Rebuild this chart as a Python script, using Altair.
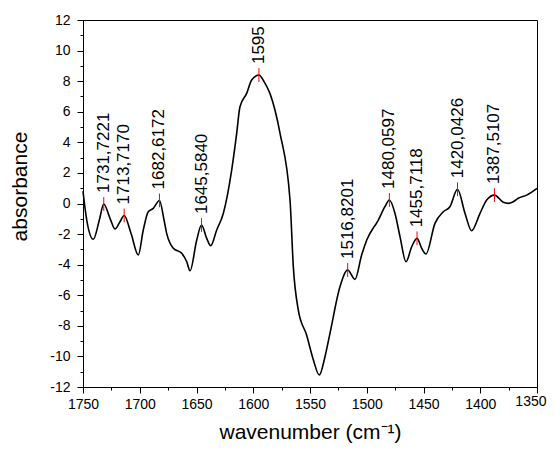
import altair as alt
import pandas as pd

wavenumber = [1750, 1746.7, 1740.9, 1735.6, 1731.72, 1726.2, 1721.8, 1717.4, 1713.72, 1707.7,
              1701.3, 1696.9, 1692.5, 1688.1, 1682.62, 1678.6, 1676.3, 1673.3, 1670.4, 1663,
              1658.6, 1655.7, 1649.8, 1645.58, 1641, 1637.5, 1632.2, 1626.4, 1619, 1614.6,
              1611.7, 1605.8, 1601.4, 1595, 1590.5, 1585.3, 1576.4, 1567.6, 1564.7, 1560.3,
              1553, 1547, 1541.8, 1536.8, 1532.4, 1523.6, 1516.82, 1510.4, 1504.5, 1500,
              1489.8, 1484, 1480.06, 1475.1, 1470.7, 1465.4, 1460.4, 1455.71, 1451.6, 1447.8,
              1439.9, 1432.5, 1426.7, 1420.04, 1413.4, 1407.6, 1400.2, 1394.3, 1387.51, 1379.7,
              1375.3, 1370.9, 1366.5, 1359.1, 1350]
absorbance = [0.8, -1.08, -2.34, -1.08, -0.03, -0.97, -1.67, -1.19, -0.78, -1.95,
              -3.37, -1.73, -0.54, -0.32, 0.2, -1.08, -1.95, -2.6, -2.93, -3.26,
              -3.81, -4.4, -2.39, -1.41, -2.28, -2.76, -1.73, -0.65, 2.19, 4.59,
              6.33, 7.2, 8.08, 8.4, 7.97, 7.2, 4.59, 0.23, -4.13, -6.97,
              -8.6, -10.24, -11.22, -10.02, -8.49, -5.44, -4.35, -4.96, -3.37, -2.39,
              -1.08, -0.21, 0.23, -0.65, -2.17, -3.81, -2.83, -2.28, -2.93, -3.3,
              -1.3, -0.54, -0.21, 0.93, -0.65, -1.78, -0.64, 0.23, 0.55, 0.08,
              0.01, 0.12, 0.34, 0.55, 0.99]

peak_wn = [1731.72, 1713.72, 1682.62, 1645.58, 1595, 1516.82, 1480.06, 1455.71, 1420.04, 1387.51]
peak_abs = [-0.03, -0.78, 0.2, -1.41, 8.4, -4.35, 0.23, -2.28, 0.93, 0.55]
peak_labels = ["1731,7221", "1713,7170", "1682,6172", "1645,5840", "1595",
               "1516,8201", "1480,0597", "1455,7118", "1420,0426", "1387,5107"]

x_major = list(range(1350, 1751, 50))
x_minor = list(range(1375, 1750, 50))
y_major = list(range(-12, 13, 2))
y_minor = list(range(-11, 12, 2))

curve = pd.DataFrame({"wn": wavenumber, "a": absorbance})
peaks = pd.DataFrame({"wn": peak_wn, "a": peak_abs, "label": peak_labels})
peaks["lo"] = peaks["a"] - 0.45
peaks["hi"] = peaks["a"] + 0.45

x_scale = alt.Scale(domain=[1750, 1350], nice=False, zero=False)
y_scale = alt.Scale(domain=[-12, 12], nice=False, zero=False)

# minor ticks; this axis also carries the last x label, nudged to stay inside the page
minor = alt.Chart(curve).mark_line(opacity=0).encode(
    x=alt.X("wn:Q", scale=x_scale, axis=alt.Axis(
        values=x_minor + [1350], labelExpr="datum.value == 1350 ? '' + datum.value : ''",
        labelAlign="right", labelOffset=9, labelPadding=4, labelFlush=False, labelOverlap=False,
        domain=False, tickSize=3, title=None, orient="bottom")),
    y=alt.Y("a:Q", scale=y_scale, axis=alt.Axis(
        values=y_minor, labels=False, domain=False, tickSize=3, title=None, orient="left")),
)

line = alt.Chart(curve).mark_line(color="black", strokeWidth=1.6, interpolate="monotone").encode(
    x=alt.X("wn:Q", scale=x_scale, axis=alt.Axis(
        values=x_major, labelExpr="datum.value == 1350 ? '' : '' + datum.value", tickSize=6,
        orient="bottom", title="wavenumber (cm⁻¹)", labelPadding=4, titlePadding=10,
        titleFontSize=21, labelFlush=False, labelOverlap=False)),
    y=alt.Y("a:Q", scale=y_scale, axis=alt.Axis(
        values=y_major, labelExpr="'' + datum.value", tickSize=6, orient="left",
        title="absorbance", labelPadding=7, titlePadding=19, titleY=166,
        labelFlush=False, labelOverlap=False)),
)

marks = alt.Chart(peaks).mark_rule(color="red", strokeWidth=1).encode(
    x=alt.X("wn:Q", scale=x_scale, axis=None),
    y=alt.Y("lo:Q", scale=y_scale, axis=None),
    y2="hi:Q",
)

labels = alt.Chart(peaks).mark_text(
    angle=270, align="left", baseline="middle", dx=11, fontSize=17,
    font="Liberation Sans", color="black"
).encode(
    x=alt.X("wn:Q", scale=x_scale, axis=None),
    y=alt.Y("a:Q", scale=y_scale, axis=None),
    text="label:N",
)

chart = alt.layer(minor, line, marks, labels).resolve_scale(
    x="independent", y="independent"
).properties(
    width=454,
    height=367,
    autosize=alt.AutoSizeParams(type="none"),
    padding={"left": 75, "top": 12, "right": 10, "bottom": 58},
).configure_view(
    stroke="black", strokeWidth=1
).configure_axis(
    grid=False,
    domainColor="black",
    tickColor="black",
    labelColor="black",
    titleColor="black",
    labelFont="Liberation Sans",
    titleFont="Liberation Sans",
    labelFontSize=14,
    titleFontSize=21,
    titleFontWeight="normal",
)

chart.save("out.html", embed_options={"renderer": "svg", "actions": False})
